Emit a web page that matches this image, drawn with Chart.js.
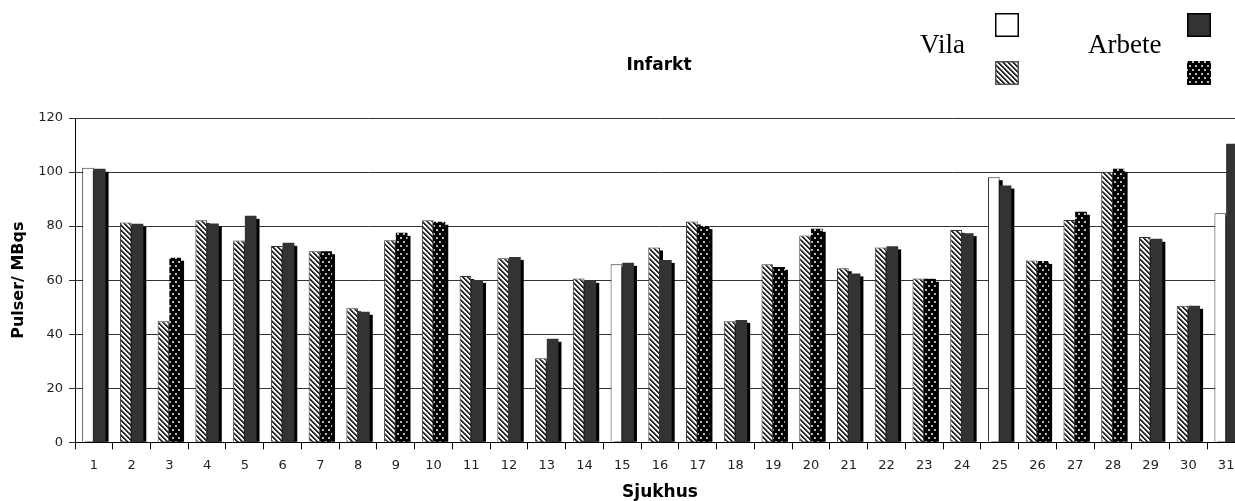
<!DOCTYPE html>
<html>
<head>
<meta charset="utf-8">
<script src="https://cdn.jsdelivr.net/npm/chart.js@4.4.1/dist/chart.umd.min.js"></script>
<style>
  html, body { margin: 0; padding: 0; background: #fff; overflow: hidden; }
  #wrap { width: 1245px; height: 501px; }
</style>
</head>
<body>
<div id="wrap"><canvas id="c" width="1245" height="501"></canvas></div>
<script>
// Hospitals (Sjukhus) 1..31
const categories = ['1','2','3','4','5','6','7','8','9','10','11','12','13','14','15','16',
  '17','18','19','20','21','22','23','24','25','26','27','28','29','30','31'];

// Pulser / MBqs at rest (Vila) and under exercise (Arbete)
const vila = [101.6, 81.3, 44.8, 82.2, 74.7, 72.6, 70.7, 49.6, 74.8, 82.2, 61.5, 68.1, 31.1, 60.6, 65.9, 72.1,
  81.7, 44.8, 65.9, 76.5, 64.4, 72.1, 60.6, 78.6, 98.1, 67.3, 82.3, 100.1, 76.0, 50.5, 84.8];
const arbete = [101.2, 80.9, 68.3, 81.0, 83.8, 73.8, 70.7, 48.3, 77.5, 81.6, 60.1, 68.6, 38.3, 60.1, 66.4, 67.5,
  80.0, 45.3, 64.9, 79.0, 62.5, 72.5, 60.5, 77.4, 95.0, 67.1, 85.3, 101.2, 75.3, 50.5, 110.5];

// Fill kind of each bar: plain / hatch for Vila, solid / dots for Arbete
const vilaKind = ['plain','hatch','hatch','hatch','hatch','hatch','hatch','hatch','hatch','hatch','hatch','hatch',
  'hatch','hatch','plain','hatch','hatch','hatch','hatch','hatch','hatch','hatch','hatch','hatch','plain','hatch',
  'hatch','hatch','hatch','hatch','plain'];
const arbeteKind = ['solid','solid','dots','solid','solid','solid','dots','solid','dots','dots','solid','solid',
  'solid','solid','solid','solid','dots','solid','dots','dots','solid','solid','dots','solid','solid','dots',
  'dots','dots','solid','solid','solid'];

const yTicks = [0, 20, 40, 60, 80, 100, 120];

// ---- fill patterns ----
function tile(w, h, paint) {
  const cv = document.createElement('canvas');
  cv.width = w; cv.height = h;
  const c = cv.getContext('2d');
  const img = c.createImageData(w, h);
  for (let y = 0; y < h; y++) {
    for (let x = 0; x < w; x++) {
      const v = paint(x, y);
      const i = (y * w + x) * 4;
      img.data[i] = img.data[i + 1] = img.data[i + 2] = v;
      img.data[i + 3] = 255;
    }
  }
  c.putImageData(img, 0, 0);
  return c.createPattern(cv, 'repeat');
}
// diagonal "\" stripes
const hatch = tile(5, 5, (x, y) => {
  const d = (((x - y) % 5) + 5) % 5;
  return d < 2 ? 40 : (d === 2 ? 150 : 255);
});
// light dots on black, staggered rows
const dots = tile(6, 8, (x, y) => {
  const inA = (x === 1 || x === 2) && (y === 1 || y === 2);
  const inB = (x === 4 || x === 5) && (y === 5 || y === 6);
  return (inA || inB) ? 185 : 0;
});

const fillFor = {
  plain: '#ffffff',
  hatch: hatch,
  solid: '#333333',
  dots: dots
};

// 3D-style drop shadow behind every bar
const barShadow = {
  id: 'barShadow',
  beforeDatasetsDraw(chart) {
    const { ctx, chartArea: a } = chart;
    ctx.save();
    ctx.beginPath();
    ctx.rect(a.left, a.top, a.right - a.left, a.bottom - a.top);
    ctx.clip();
    ctx.fillStyle = '#000';
    chart.data.datasets.forEach((ds, i) => {
      chart.getDatasetMeta(i).data.forEach(bar => {
        const { x, y, base, width } = bar.getProps(['x', 'y', 'base', 'width'], true);
        ctx.fillRect(x - width / 2 + 3, y + 3, width, base - y - 3);
      });
    });
    ctx.restore();
  }
};

// Title and the two-row legend
const decor = {
  id: 'decor',
  afterDraw(chart) {
    const ctx = chart.ctx;
    ctx.save();
    ctx.fillStyle = '#000';
    ctx.font = 'bold 17px "DejaVu Sans", Verdana, sans-serif';
    ctx.textAlign = 'center';
    ctx.textBaseline = 'middle';
    ctx.fillText('Infarkt', 659, 66);

    ctx.font = '27px "Liberation Serif", "Times New Roman", serif';
    ctx.textAlign = 'left';
    ctx.textBaseline = 'alphabetic';
    ctx.fillText('Vila', 920, 53);
    ctx.fillText('Arbete', 1088, 53);

    const sw = (x, y, fill, stroke) => {
      ctx.fillStyle = fill;
      ctx.fillRect(x, y, 24, 24);
      if (stroke) {
        ctx.strokeStyle = stroke;
        ctx.lineWidth = 1.5;
        ctx.strokeRect(x + 0.75, y + 0.75, 22.5, 22.5);
      }
    };
    sw(995, 13, fillFor.plain, '#000');
    sw(995, 61, fillFor.hatch, '#555');
    sw(1187, 13, fillFor.solid, '#000');
    sw(1187, 61, fillFor.dots, null);
    ctx.restore();
  }
};

new Chart(document.getElementById('c'), {
  type: 'bar',
  data: {
    labels: categories,
    datasets: [
      {
        label: 'Vila',
        data: vila,
        backgroundColor: vilaKind.map(k => fillFor[k]),
        borderColor: '#333',
        borderWidth: 1,
        categoryPercentage: 0.62,
        barPercentage: 1.0
      },
      {
        label: 'Arbete',
        data: arbete,
        backgroundColor: arbeteKind.map(k => fillFor[k]),
        borderWidth: 0,
        categoryPercentage: 0.62,
        barPercentage: 1.0
      }
    ]
  },
  options: {
    responsive: false,
    animation: false,
    devicePixelRatio: 1,
    layout: { padding: { top: 118, right: 0, bottom: 0, left: 0 } },
    plugins: {
      legend: { display: false },
      title: { display: false },
      tooltip: { enabled: false }
    },
    scales: {
      x: {
        offset: true,
        grid: {
          offset: true,
          drawOnChartArea: false,
          drawTicks: true,
          tickLength: 7,
          color: '#000'
        },
        border: { color: '#000', width: 1 },
        ticks: {
          color: '#222',
          padding: 9,
          maxRotation: 0,
          autoSkip: false,
          font: { family: '"DejaVu Sans", Verdana, sans-serif', size: 13 }
        },
        title: {
          display: true,
          text: 'Sjukhus',
          color: '#000',
          padding: { top: 0, bottom: 0 },
          font: { family: '"DejaVu Sans", Verdana, sans-serif', size: 17, weight: 'bold', lineHeight: 1.0 }
        },
        afterFit(scale) { scale.height = 58.7; }
      },
      y: {
        min: 0,
        max: 120,
        afterBuildTicks(scale) { scale.ticks = yTicks.map(v => ({ value: v })); },
        grid: {
          color: '#333',
          lineWidth: 1,
          tickLength: 6
        },
        border: { color: '#000', width: 1 },
        ticks: {
          color: '#222',
          padding: 6,
          font: { family: '"DejaVu Sans", Verdana, sans-serif', size: 13 }
        },
        title: {
          display: true,
          text: 'Pulser/ MBqs',
          color: '#000',
          padding: { top: 9, bottom: 0 },
          font: { family: '"DejaVu Sans", Verdana, sans-serif', size: 16, weight: 'bold', lineHeight: 1.2 }
        },
        afterFit(scale) { scale.width = 75; }
      }
    }
  },
  plugins: [barShadow, decor]
});
</script>
</body>
</html>
